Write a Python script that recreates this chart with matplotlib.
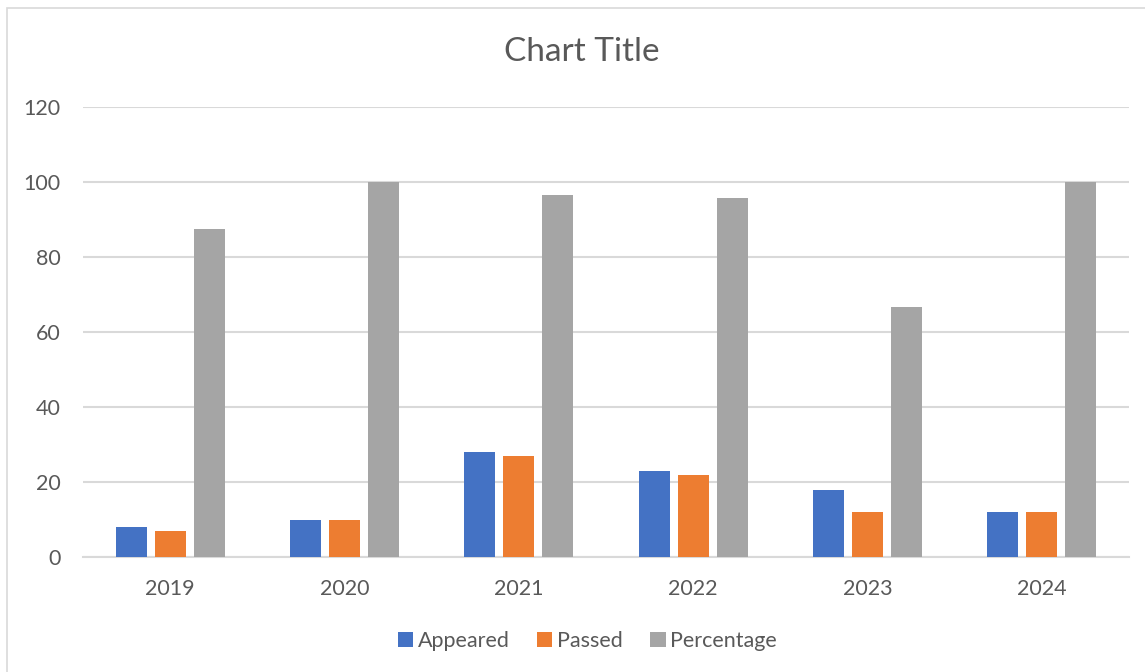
#!/usr/bin/env python3
"""Grouped bar chart: appeared, passed and pass percentage per year."""

import matplotlib

matplotlib.use("Agg")
import matplotlib.pyplot as plt
from matplotlib.patches import Rectangle
import numpy as np

years = ["2019", "2020", "2021", "2022", "2023", "2024"]
appeared = [8, 10, 28, 23, 18, 12]
passed = [7, 10, 27, 22, 12, 12]
percentage = [87.5, 100, 96.43, 95.65, 66.67, 100]

series = [
    ("Appeared", appeared, "#4472C4"),
    ("Passed", passed, "#ED7D31"),
    ("Percentage", percentage, "#A5A5A5"),
]

plt.rcParams["font.family"] = ["Lato", "DejaVu Sans"]
text_color = "#595959"
grid_color = "#D9D9D9"

fig = plt.figure(figsize=(11.45, 6.72), dpi=100)
ax = fig.add_axes([0.0725, 0.171, 0.9135, 0.670])

# light frame around the chart area
fig.patches.append(
    Rectangle((0.006, -0.1), 1.2, 1.088, transform=fig.transFigure,
              fill=False, edgecolor=grid_color, linewidth=1.2)
)

x = np.arange(len(years))
width = 0.178
offsets = [-0.223, 0.0, 0.223]
for (name, vals, color), off in zip(series, offsets):
    ax.bar(x + off, vals, width, color=color, label=name, zorder=3)

ax.set_xlim(-0.5, len(years) - 0.5)
ax.set_ylim(0, 120)
ax.set_yticks(range(0, 121, 20))
ax.set_xticks(x)
ax.set_xticklabels(years)

ax.yaxis.grid(True, color=grid_color, linewidth=1.5, zorder=0)
for side in ["top", "right", "left"]:
    ax.spines[side].set_visible(False)
ax.spines["bottom"].set_color(grid_color)
ax.spines["bottom"].set_linewidth(1.5)
ax.tick_params(axis="both", length=0, labelsize=15.5, labelcolor=text_color)
ax.tick_params(axis="x", pad=16)
ax.tick_params(axis="y", pad=16)

fig.text(0.508, 0.923, "Chart Title", ha="center", va="center",
         fontsize=24, color=text_color)

leg = fig.legend(loc="center", bbox_to_anchor=(0.513, 0.046), ncol=3,
                 frameon=False, fontsize=15.5, handlelength=0.7,
                 handleheight=0.7, handletextpad=0.2, columnspacing=1.3)
for t in leg.get_texts():
    t.set_color(text_color)

fig.savefig("out.png", dpi=100)
